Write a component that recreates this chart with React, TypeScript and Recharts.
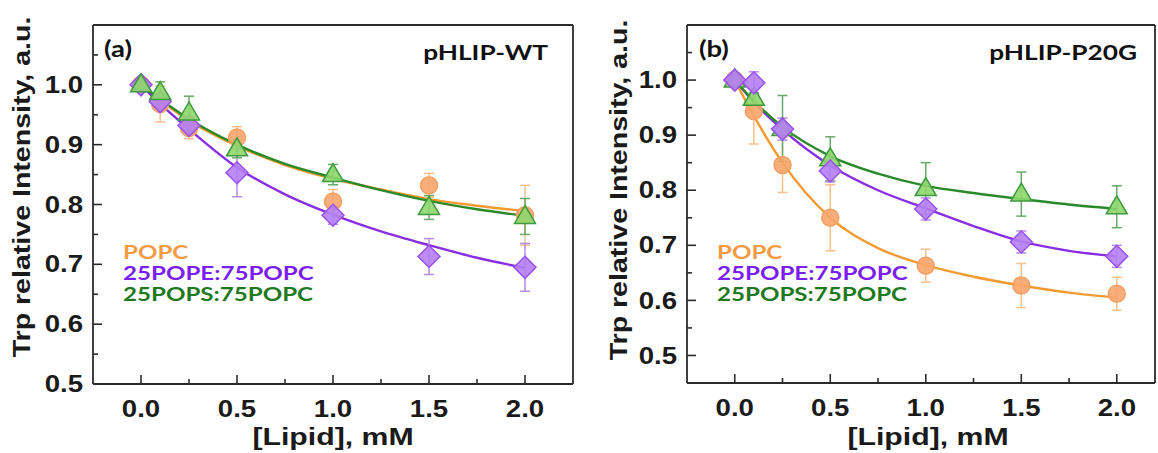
import React from 'react';
import { ComposedChart, Line, Scatter, XAxis, YAxis, ErrorBar } from 'recharts';

// lipid concentrations (mM) of the measured points
const lipidX = [0, 0.1, 0.25, 0.5, 1.0, 1.5, 2.0];
const fitX = [0, 0.1, 0.25, 0.5, 0.75, 1.0, 1.25, 1.5, 1.75, 2.0];

// (a) pHLIP-WT
const wtPopc = [1.0, 0.968, 0.928, 0.912, 0.805, 0.832, 0.782];
const wtPopcErr = [0.005, 0.03, 0.018, 0.018, 0.02, 0.02, 0.05];
const wtPope = [1.0, 0.972, 0.932, 0.853, 0.782, 0.713, 0.695];
const wtPopeErr = [0.01, 0.01, 0.015, 0.04, 0.015, 0.03, 0.04];
const wtPops = [1.0, 0.987, 0.953, 0.893, 0.85, 0.795, 0.78];
const wtPopsErr = [0.005, 0.018, 0.028, 0.015, 0.017, 0.02, 0.03];
const wtPopcFit = [1.0, 0.974, 0.94, 0.898, 0.866, 0.843, 0.825, 0.809, 0.798, 0.789];
const wtPopeFit = [1.0, 0.968, 0.926, 0.862, 0.817, 0.783, 0.755, 0.732, 0.711, 0.694];
const wtPopsFit = [1.0, 0.976, 0.943, 0.9, 0.868, 0.845, 0.824, 0.806, 0.792, 0.781];

// (b) pHLIP-P20G
const pgPopc = [1.0, 0.944, 0.846, 0.75, 0.663, 0.627, 0.612];
const pgPopcErr = [0.005, 0.06, 0.05, 0.06, 0.03, 0.04, 0.03];
const pgPope = [1.0, 0.995, 0.911, 0.835, 0.766, 0.706, 0.68];
const pgPopeErr = [0.005, 0.02, 0.02, 0.02, 0.02, 0.02, 0.02];
const pgPops = [1.0, 0.967, 0.912, 0.857, 0.803, 0.793, 0.77];
const pgPopsErr = [0.005, 0.01, 0.06, 0.04, 0.047, 0.04, 0.038];
const pgPopcFit = [1.0, 0.935, 0.85, 0.75, 0.695, 0.664, 0.643, 0.627, 0.614, 0.605];
const pgPopeFit = [1.0, 0.96, 0.91, 0.845, 0.8, 0.767, 0.735, 0.707, 0.69, 0.68];
const pgPopsFit = [1.0, 0.962, 0.915, 0.862, 0.83, 0.808, 0.795, 0.784, 0.774, 0.766];

const xTicks = [0, 0.25, 0.5, 0.75, 1.0, 1.25, 1.5, 1.75, 2.0];
const yTicks = [0.5, 0.55, 0.6, 0.65, 0.7, 0.75, 0.8, 0.85, 0.9, 0.95, 1.0, 1.05];
const legendLabels = ['POPC', '25POPE:75POPC', '25POPS:75POPC'];

const COL = {
  popc: { line: '#F29A32', fill: '#F7A56C', edge: '#F2A064', err: '#F6C08C', text: '#F49B45' },
  pope: { line: '#8A2EE6', fill: '#B57EF3', edge: '#9A52EA', err: '#B48CE4', text: '#7A1EF2' },
  pops: { line: '#2A8A2A', fill: '#8ED66C', edge: '#3E9A3E', err: '#6AA86A', text: '#1E7A1E' },
};

const ARIAL = '"Liberation Sans", Arial, sans-serif';
const CALIBRI = 'Lato, "Open Sans", sans-serif';
const AXIS = '#2b2b2b';

const toPoints = (ys: number[], errs: number[]) => lipidX.map((x, i) => ({ x, y: ys[i], err: errs[i] }));
const toFit = (ys: number[]) => fitX.map((x, i) => ({ x, y: ys[i] }));

const CircleMark = (p: any) => (
  <circle cx={p.cx} cy={p.cy} r={8.5} fill={COL.popc.fill} fillOpacity={0.9} stroke={COL.popc.edge} strokeWidth={1.5} />
);
const DiamondMark = (p: any) => {
  const s = 11;
  return (
    <path
      d={`M${p.cx},${p.cy - s}L${p.cx + s},${p.cy}L${p.cx},${p.cy + s}L${p.cx - s},${p.cy}Z`}
      fill={COL.pope.fill} fillOpacity={0.9} stroke={COL.pope.edge} strokeWidth={1.5}
    />
  );
};
const TriangleMark = (p: any) => (
  <path
    d={`M${p.cx},${p.cy - 11}L${p.cx + 10.5},${p.cy + 7}L${p.cx - 10.5},${p.cy + 7}Z`}
    fill={COL.pops.fill} fillOpacity={0.9} stroke={COL.pops.edge} strokeWidth={1.5}
  />
);

type Side = 'bottom' | 'top' | 'left' | 'right';

const makeTick = (side: Side, step: number, showLabel: boolean) => (p: any) => {
  const { x, y, payload } = p;
  const v = payload.value as number;
  const major = Math.abs(v / step - Math.round(v / step)) < 1e-6;
  const len = major ? 9 : 5;
  let d = '';
  if (side === 'bottom') d = `M${x},${y}V${y - len}`;
  if (side === 'top') d = `M${x},${y}V${y + len}`;
  if (side === 'left') d = `M${x},${y}H${x + len}`;
  if (side === 'right') d = `M${x},${y}H${x - len}`;
  let label = null;
  if (showLabel && major) {
    const common = { fontFamily: ARIAL, fontWeight: 700, fontSize: 23, fill: '#1a1a1a', dominantBaseline: 'central' as const };
    if (side === 'bottom') {
      label = (
        <text transform={`translate(${x},${y + 25}) scale(1.2,1)`} textAnchor="middle" {...common}>
          {v.toFixed(1)}
        </text>
      );
    } else {
      label = (
        <text transform={`translate(${x - 10},${y}) scale(1.2,1)`} textAnchor="end" {...common}>
          {v.toFixed(1)}
        </text>
      );
    }
  }
  return (
    <g>
      <path d={d} stroke={AXIS} strokeWidth={1.6} />
      {label}
    </g>
  );
};

const Txt = ({ x, y, anchor = 'left', sx = 1, font, size, color = '#111', children }: any) => {
  const tx = anchor === 'left' ? '0%' : anchor === 'center' ? '-50%' : '-100%';
  const origin = anchor === 'left' ? 'left center' : anchor === 'center' ? 'center center' : 'right center';
  return (
    <div
      style={{
        position: 'absolute', left: x, top: y, whiteSpace: 'nowrap', lineHeight: 1,
        fontFamily: font, fontWeight: 700, fontSize: size, color,
        transform: `translate(${tx}, -50%) scaleX(${sx})`, transformOrigin: origin,
      }}
    >
      {children}
    </div>
  );
};

const YTitle = ({ x, y }: { x: number; y: number }) => (
  <div
    style={{
      position: 'absolute', left: x, top: y, whiteSpace: 'nowrap', lineHeight: 1,
      fontFamily: ARIAL, fontWeight: 700, fontSize: 24, color: '#1a1a1a',
      transform: 'translate(-50%, -50%) rotate(-90deg) scaleX(1.19)',
    }}
  >
    Trp relative Intensity, a.u.
  </div>
);

interface PanelProps {
  left: number;
  width: number;
  margin: { top: number; right: number; bottom: number; left: number };
  xDomain: [number, number];
  yDomain: [number, number];
  popc: any[]; pope: any[]; pops: any[];
  popcFit: any[]; popeFit: any[]; popsFit: any[];
  greenOnTop: boolean;
}

const Panel = (p: PanelProps) => {
  const orange = (
    <Scatter key="o" xAxisId="main" yAxisId="main" data={p.popc} dataKey="y" shape={CircleMark} isAnimationActive={false}>
      <ErrorBar dataKey="err" direction="y" width={5} stroke={COL.popc.err} strokeWidth={1.5} />
    </Scatter>
  );
  const purple = (
    <Scatter key="p" xAxisId="main" yAxisId="main" data={p.pope} dataKey="y" shape={DiamondMark} isAnimationActive={false}>
      <ErrorBar dataKey="err" direction="y" width={5} stroke={COL.pope.err} strokeWidth={1.5} />
    </Scatter>
  );
  const green = (
    <Scatter key="g" xAxisId="main" yAxisId="main" data={p.pops} dataKey="y" shape={TriangleMark} isAnimationActive={false}>
      <ErrorBar dataKey="err" direction="y" width={5} stroke={COL.pops.err} strokeWidth={1.5} />
    </Scatter>
  );
  return (
    <div style={{ position: 'absolute', left: p.left, top: 0 }}>
      <ComposedChart width={p.width} height={453} margin={p.margin}>
        <XAxis xAxisId="main" dataKey="x" type="number" domain={p.xDomain} ticks={xTicks} interval={0}
          height={30} tickSize={0} tickMargin={0} tickLine={false}
          axisLine={{ stroke: AXIS, strokeWidth: 1.8 }} tick={makeTick('bottom', 0.5, true)} />
        <XAxis xAxisId="top" orientation="top" dataKey="x" type="number" domain={p.xDomain} ticks={xTicks} interval={0}
          height={1} tickSize={0} tickMargin={0} tickLine={false}
          axisLine={{ stroke: AXIS, strokeWidth: 1.8 }} tick={makeTick('top', 0.5, false)} />
        <YAxis yAxisId="main" type="number" domain={p.yDomain} ticks={yTicks} interval={0}
          width={60} tickSize={0} tickMargin={0} tickLine={false}
          axisLine={{ stroke: AXIS, strokeWidth: 1.8 }} tick={makeTick('left', 0.1, true)} />
        <YAxis yAxisId="right" orientation="right" type="number" domain={p.yDomain} ticks={yTicks} interval={0}
          width={1} tickSize={0} tickMargin={0} tickLine={false}
          axisLine={{ stroke: AXIS, strokeWidth: 1.8 }} tick={makeTick('right', 0.1, false)} />
        <Line xAxisId="main" yAxisId="main" data={p.popcFit} dataKey="y" type="monotone" stroke={COL.popc.line}
          strokeWidth={2.4} dot={false} activeDot={false} isAnimationActive={false} />
        <Line xAxisId="main" yAxisId="main" data={p.popeFit} dataKey="y" type="monotone" stroke={COL.pope.line}
          strokeWidth={2.4} dot={false} activeDot={false} isAnimationActive={false} />
        <Line xAxisId="main" yAxisId="main" data={p.popsFit} dataKey="y" type="monotone" stroke={COL.pops.line}
          strokeWidth={2.4} dot={false} activeDot={false} isAnimationActive={false} />
        {p.greenOnTop ? [orange, purple, green] : [orange, green, purple]}
      </ComposedChart>
    </div>
  );
};

const Legend = ({ x }: { x: number }) => (
  <>
    <Txt x={x} y={252} font={CALIBRI} size={18} sx={1.34} color={COL.popc.text}>{legendLabels[0]}</Txt>
    <Txt x={x} y={272.5} font={CALIBRI} size={18} sx={1.34} color={COL.pope.text}>{legendLabels[1]}</Txt>
    <Txt x={x} y={293.5} font={CALIBRI} size={18} sx={1.34} color={COL.pops.text}>{legendLabels[2]}</Txt>
  </>
);

export default function App() {
  return (
    <div style={{ position: 'absolute', left: 0, top: 0, width: 1158, height: 453, background: '#fff', overflow: 'hidden' }}>
      <Panel
        left={0} width={580}
        margin={{ top: 24, right: 6, bottom: 39, left: 33 }}
        xDomain={[-0.25, 2.25]} yDomain={[0.5, 1.1]}
        popc={toPoints(wtPopc, wtPopcErr)} pope={toPoints(wtPope, wtPopeErr)} pops={toPoints(wtPops, wtPopsErr)}
        popcFit={toFit(wtPopcFit)} popeFit={toFit(wtPopeFit)} popsFit={toFit(wtPopsFit)}
        greenOnTop
      />
      <Panel
        left={580} width={578}
        margin={{ top: 24, right: 2, bottom: 40, left: 47 }}
        xDomain={[-0.25, 2.2]} yDomain={[0.45, 1.1]}
        popc={toPoints(pgPopc, pgPopcErr)} pope={toPoints(pgPope, pgPopeErr)} pops={toPoints(pgPops, pgPopsErr)}
        popcFit={toFit(pgPopcFit)} popeFit={toFit(pgPopeFit)} popsFit={toFit(pgPopsFit)}
        greenOnTop={false}
      />
      <YTitle x={22} y={187} />
      <YTitle x={619} y={190} />
      <Txt x={333} y={437} anchor="center" font={ARIAL} size={24} sx={1.26} color="#1a1a1a">[Lipid], mM</Txt>
      <Txt x={928} y={437} anchor="center" font={ARIAL} size={24} sx={1.26} color="#1a1a1a">[Lipid], mM</Txt>
      <Txt x={104} y={49} font={CALIBRI} size={22} sx={1.25}>(a)</Txt>
      <Txt x={548} y={51} anchor="right" font={CALIBRI} size={21} sx={1.25}>pHLIP-WT</Txt>
      <Txt x={699} y={49} font={CALIBRI} size={22} sx={1.25}>(b)</Txt>
      <Txt x={1137} y={51} anchor="right" font={CALIBRI} size={21} sx={1.25}>pHLIP-P20G</Txt>
      <Legend x={123} />
      <Legend x={717} />
    </div>
  );
}
